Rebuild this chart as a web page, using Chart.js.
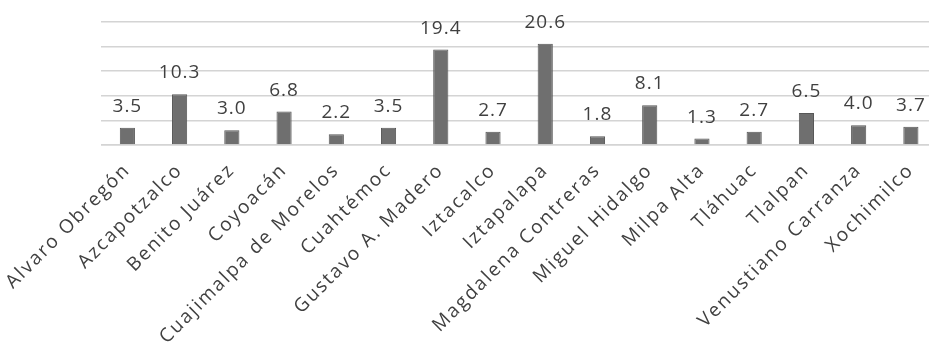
<!DOCTYPE html>
<html>
<head>
<meta charset="utf-8">
<script src="https://cdn.jsdelivr.net/npm/chart.js@4"></script>
<style>
  html, body { margin: 0; padding: 0; background: #fff; overflow: hidden; }
  #wrap { width: 937px; height: 348px; }
</style>
</head>
<body>
<div id="wrap"><canvas id="alcaldiasChart"></canvas></div>
<script>
const alcaldias = ['Alvaro Obregón', 'Azcapotzalco', 'Benito Juárez', 'Coyoacán',
  'Cuajimalpa de Morelos', 'Cuahtémoc', 'Gustavo A. Madero', 'Iztacalco', 'Iztapalapa',
  'Magdalena Contreras', 'Miguel Hidalgo', 'Milpa Alta', 'Tláhuac', 'Tlalpan',
  'Venustiano Carranza', 'Xochimilco'];
const valores = [3.5, 10.3, 3.0, 6.8, 2.2, 3.5, 19.4, 2.7, 20.6, 1.8, 8.1, 1.3, 2.7, 6.5, 4.0, 3.7];
const yTicks = [0, 5, 10, 15, 20, 25];

const textColor = '#404040';

// value labels above each bar + letter spacing for the category names
const etiquetas = {
  id: 'etiquetas',
  beforeLayout(chart) { chart.ctx.letterSpacing = '2px'; },
  beforeDraw(chart) { chart.ctx.letterSpacing = '2px'; },
  afterDatasetsDraw(chart) {
    const ctx = chart.ctx;
    const meta = chart.getDatasetMeta(0);
    ctx.save();
    ctx.letterSpacing = '1px';
    ctx.font = '19px "Open Sans"';
    ctx.fillStyle = textColor;
    ctx.textAlign = 'center';
    ctx.textBaseline = 'alphabetic';
    meta.data.forEach((bar, i) => {
      ctx.fillText(valores[i].toFixed(1), bar.x, bar.y - 16);
    });
    ctx.restore();
  }
};

const ctx = document.getElementById('alcaldiasChart').getContext('2d');
new Chart(ctx, {
  type: 'bar',
  data: {
    labels: alcaldias,
    datasets: [{
      data: valores,
      backgroundColor: '#6f6f6f',
      borderColor: '#575757',
      borderWidth: 1,
      categoryPercentage: 1,
      barPercentage: 0.29
    }]
  },
  options: {
    responsive: true,
    maintainAspectRatio: false,
    animation: false,
    layout: { padding: { top: 22, right: 0, left: 0, bottom: 0 } },
    plugins: {
      legend: { display: false },
      tooltip: { enabled: false }
    },
    scales: {
      x: {
        grid: { display: false },
        border: { color: '#d4d4d4', width: 1.5 },
        ticks: {
          autoSkip: false,
          minRotation: 45,
          maxRotation: 45,
          padding: 6,
          color: textColor,
          font: { family: '"Open Sans"', size: 19 }
        },
        afterFit(scale) { scale.height = 203; }
      },
      y: {
        min: 0,
        max: 25,
        afterBuildTicks(scale) { scale.ticks = yTicks.map(v => ({ value: v })); },
        grid: { color: '#d4d4d4', lineWidth: 1.5, drawTicks: false },
        border: { display: false },
        ticks: { display: false },
        afterFit(scale) { scale.width = 100; }
      }
    }
  },
  plugins: [etiquetas]
});
</script>
</body>
</html>
